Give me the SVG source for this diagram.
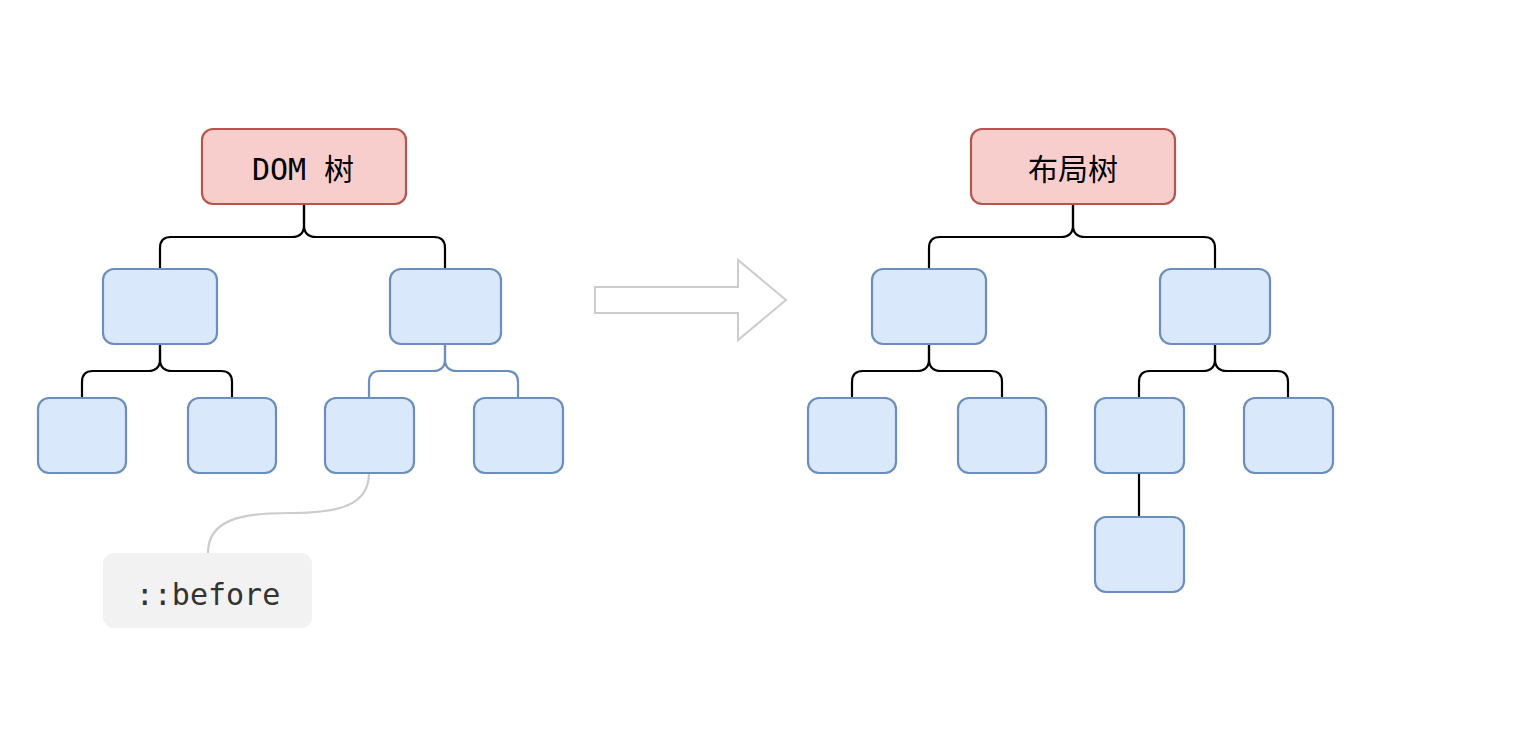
<svg xmlns="http://www.w3.org/2000/svg" width="1524" height="750" viewBox="0 0 1524 750">
<style>
.bg{fill:#ffffff}
.blue{fill:#dae8fc;stroke:#6c8ebf;stroke-width:2.2}
.red{fill:#f8cecc;stroke:#b85450;stroke-width:2.2}
.note{fill:#f2f2f2;stroke:none}
.edge{fill:none;stroke:#000000;stroke-width:2.2}
.edge-blue{fill:none;stroke:#6c8ebf;stroke-width:2.2}
.edge-gray{fill:none;stroke:#cccccc;stroke-width:2.2}
.mono{font-family:"DejaVu Sans Mono","Liberation Mono","Noto Sans CJK SC",monospace;font-size:30px;fill:#000000;text-anchor:middle}
.cjk{font-family:"Noto Sans CJK SC","Noto Sans",sans-serif;font-size:30px;fill:#000000;text-anchor:middle}
</style>
<rect class="bg" x="0" y="0" width="1524" height="750"/>

<g id="connectors">
  <!-- left tree -->
  <path class="edge" d="M304 204 V225 Q304 237 292 237 H171 Q160 237 160 248 V269"/>
  <path class="edge" d="M304 204 V225 Q304 237 316 237 H434 Q445 237 445 248 V269"/>
  <path class="edge" d="M160 344 V359 Q160 371 148 371 H93 Q82 371 82 382 V398"/>
  <path class="edge" d="M160 344 V359 Q160 371 172 371 H221 Q232 371 232 382 V398"/>
  <path class="edge-blue" d="M445 344 V359 Q445 371 433 371 H380 Q369 371 369 382 V398"/>
  <path class="edge-blue" d="M445 344 V359 Q445 371 457 371 H507 Q518 371 518 382 V398"/>
  <path class="edge-gray" d="M369 473 C369 505 340 513 290 513 C240 513 208 520 208 553"/>
  <!-- transform arrow -->
  <path id="arrow" d="M595 287 H738 V260 L786 300 L738 340 V313 H595 Z" fill="#ffffff" stroke="#cccccc" stroke-width="2"/>
  <!-- right tree -->
  <path class="edge" d="M1073 204 V225 Q1073 237 1061 237 H940 Q929 237 929 248 V269"/>
  <path class="edge" d="M1073 204 V225 Q1073 237 1085 237 H1204 Q1215 237 1215 248 V269"/>
  <path class="edge" d="M929 344 V359 Q929 371 917 371 H863 Q852 371 852 382 V398"/>
  <path class="edge" d="M929 344 V359 Q929 371 941 371 H991 Q1002 371 1002 382 V398"/>
  <path class="edge" d="M1215 344 V359 Q1215 371 1203 371 H1150 Q1139 371 1139 382 V398"/>
  <path class="edge" d="M1215 344 V359 Q1215 371 1227 371 H1277 Q1288 371 1288 382 V398"/>
  <path class="edge" d="M1139 473 V517"/>
</g>

<g id="dom-root"><rect class="red" x="202" y="129" width="204" height="75" rx="11"/><text class="mono" x="303" y="180">DOM 树</text></g>
<g id="dom-l1a"><rect class="blue" x="103" y="269" width="114" height="75" rx="11"/></g>
<g id="dom-l1b"><rect class="blue" x="390" y="269" width="111" height="75" rx="11"/></g>
<g id="dom-l2a"><rect class="blue" x="38" y="398" width="88" height="75" rx="11"/></g>
<g id="dom-l2b"><rect class="blue" x="188" y="398" width="88" height="75" rx="11"/></g>
<g id="dom-l2c"><rect class="blue" x="325" y="398" width="89" height="75" rx="11"/></g>
<g id="dom-l2d"><rect class="blue" x="474" y="398" width="89" height="75" rx="11"/></g>
<g id="before-note"><rect class="note" x="103" y="553" width="209" height="75" rx="11"/><text class="mono" x="208" y="605" style="fill:#333333">::before</text></g>

<g id="layout-root"><rect class="red" x="971" y="129" width="204" height="75" rx="11"/><text class="cjk" x="1073" y="180">布局树</text></g>
<g id="layout-l1a"><rect class="blue" x="872" y="269" width="114" height="75" rx="11"/></g>
<g id="layout-l1b"><rect class="blue" x="1160" y="269" width="110" height="75" rx="11"/></g>
<g id="layout-l2a"><rect class="blue" x="808" y="398" width="88" height="75" rx="11"/></g>
<g id="layout-l2b"><rect class="blue" x="958" y="398" width="88" height="75" rx="11"/></g>
<g id="layout-l2c"><rect class="blue" x="1095" y="398" width="89" height="75" rx="11"/></g>
<g id="layout-l2d"><rect class="blue" x="1244" y="398" width="89" height="75" rx="11"/></g>
<g id="layout-l3"><rect class="blue" x="1095" y="517" width="89" height="75" rx="11"/></g>
</svg>
